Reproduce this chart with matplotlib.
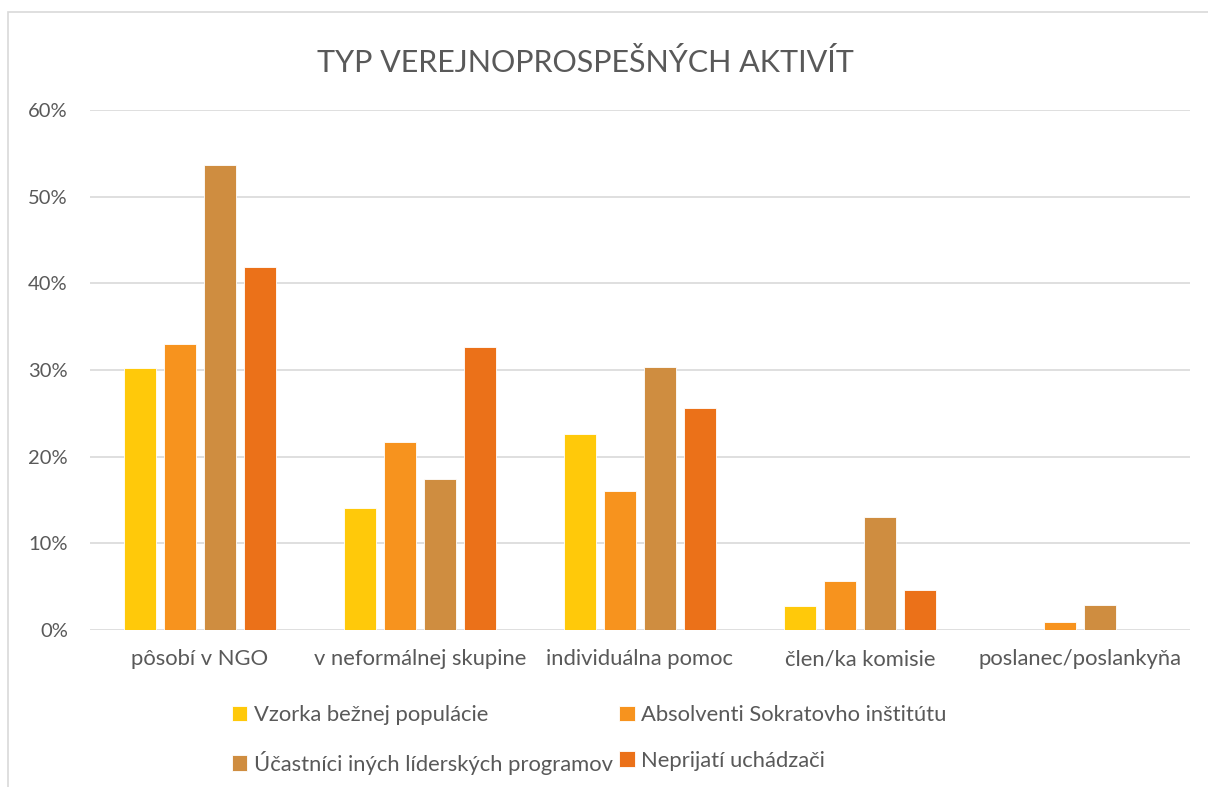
import matplotlib.pyplot as plt
import matplotlib.patches as mpatches
import numpy as np

plt.rcParams['font.family'] = ['Lato', 'DejaVu Sans']

categories = ['pôsobí v NGO', 'v neformálnej skupine', 'individuálna pomoc',
              'člen/ka komisie', 'poslanec/poslankyňa']
series_names = ['Vzorka bežnej populácie', 'Absolventi Sokratovho inštitútu',
                'Účastníci iných líderských programov', 'Neprijatí uchádzači']

vzorka = [30.2, 14.1, 22.6, 2.8, 0.0]
absolventi = [33.0, 21.7, 16.0, 5.6, 0.9]
ucastnici = [53.6, 17.4, 30.4, 13.0, 2.9]
neprijati = [41.9, 32.6, 25.6, 4.6, 0.0]
yticks = [0, 10, 20, 30, 40, 50, 60]

colors = ['#FFC90A', '#F7931E', '#CF8D40', '#EB7119']
text_col = '#595959'

fig = plt.figure(figsize=(12.08, 7.87), dpi=100)
# outer chart border
fig.patches.append(mpatches.Rectangle((8 / 1208, -0.01), 1.1, 1 - 12 / 787 + 0.01,
                                      transform=fig.transFigure, fill=False,
                                      edgecolor='#D9D9D9', linewidth=1.2))

ax = fig.add_axes([90 / 1208, 157 / 787, 1100 / 1208, 520 / 787])

x = np.arange(len(categories))
width = 0.145
step = 0.182
data = [vzorka, absolventi, ucastnici, neprijati]
handles = []
for i, (vals, c, name) in enumerate(zip(data, colors, series_names)):
    b = ax.bar(x + (i - 1.5) * step, vals, width=width, color=c,
               edgecolor='#FFFFFF', linewidth=0.6, label=name, zorder=3)
    handles.append(b)

ax.set_xlim(-0.5, 4.5)
ax.set_ylim(0, 60)
ax.set_yticks(yticks)
ax.set_yticklabels([f'{t}%' for t in yticks])
ax.set_xticks(x)
ax.set_xticklabels(categories)
ax.yaxis.grid(True, color='#D9D9D9', linewidth=1.2, zorder=0)
ax.set_axisbelow(True)
for s in ax.spines.values():
    s.set_visible(False)
ax.tick_params(axis='both', length=0, labelcolor=text_col)
ax.tick_params(axis='y', pad=16, labelsize=14.5)
ax.tick_params(axis='x', pad=14, labelsize=15.8)

fig.text(585 / 1208, 1 - 63 / 787, 'TYP VEREJNOPROSPEŠNÝCH AKTIVÍT',
         ha='center', va='center', fontsize=22, color=text_col)

order = [0, 2, 1, 3]
leg = fig.legend([handles[k] for k in order], [series_names[k] for k in order],
                 ncol=2, loc='center left', bbox_to_anchor=(212 / 1208, 1 - 740 / 787),
                 frameon=False, fontsize=15.8, handlelength=0.7, handleheight=0.7,
                 handletextpad=0.3, columnspacing=0.3, labelspacing=1.15,
                 labelcolor=text_col)

fig.savefig('out.png', dpi=100)
